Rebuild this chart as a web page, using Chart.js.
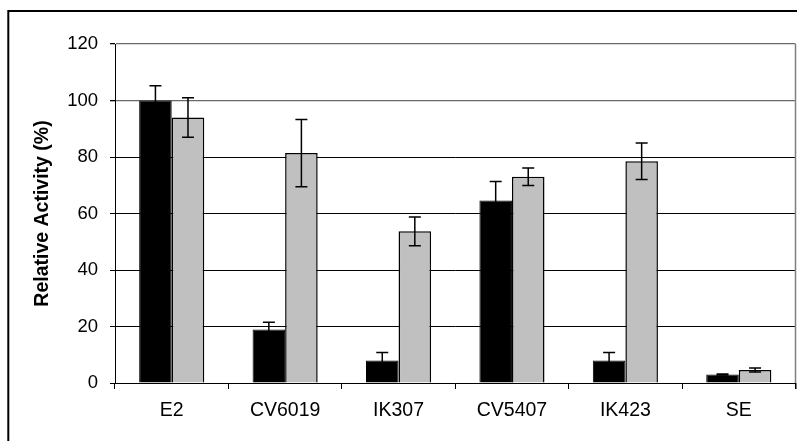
<!DOCTYPE html>
<html>
<head>
<meta charset="utf-8">
<script src="https://cdn.jsdelivr.net/npm/chart.js@4"></script>
<style>
  html, body { margin: 0; padding: 0; background: #fff; }
  #wrap { width: 797px; height: 441px; }
</style>
</head>
<body>
<div id="wrap"><canvas id="c" width="797" height="441"></canvas></div>
<script>
// Compounds tested
const categories = ['E2', 'CV6019', 'IK307', 'CV5407', 'IK423', 'SE'];
// First series (black bars) and its error
const blackValues = [100, 18.9, 8.0, 64.6, 8.0, 3.0];
const blackErrors = [5.2, 2.6, 2.8, 6.7, 2.8, 0.2];
// Second series (grey bars) and its error
const greyValues = [94.0, 81.4, 53.7, 73.0, 78.5, 4.6];
const greyErrors = [7.0, 11.9, 5.1, 3.1, 6.5, 0.7];
// Y axis ticks
const yTicks = [0, 20, 40, 60, 80, 100, 120];

const FONT = 'Liberation Sans, Arial, sans-serif';

// Outer frame around the whole figure
const framePlugin = {
  id: 'frame',
  beforeDraw(chart) {
    const ctx = chart.ctx;
    ctx.save();
    ctx.strokeStyle = '#000';
    ctx.lineWidth = 2;
    ctx.strokeRect(8.3, 11, 820, 460);
    ctx.restore();
  }
};

// Right-hand edge of the plot area
const plotEdgePlugin = {
  id: 'plotEdge',
  afterDraw(chart) {
    const { ctx, chartArea } = chart;
    ctx.save();
    ctx.strokeStyle = '#808080';
    ctx.lineWidth = 1.5;
    ctx.beginPath();
    ctx.moveTo(chartArea.right, chartArea.top);
    ctx.lineTo(chartArea.right, chartArea.bottom);
    ctx.stroke();
    ctx.strokeStyle = '#000';
    ctx.lineWidth = 1;
    ctx.beginPath();
    ctx.moveTo(chartArea.right + 0.5, chartArea.bottom);
    ctx.lineTo(chartArea.right + 0.5, chartArea.bottom + 6);
    ctx.stroke();
    ctx.restore();
  }
};

// Error bars with caps, drawn from each dataset's error array
const errorBarPlugin = {
  id: 'errorBars',
  afterDatasetsDraw(chart) {
    const ctx = chart.ctx;
    const yScale = chart.scales.y;
    ctx.save();
    ctx.strokeStyle = '#000';
    ctx.lineWidth = 1.5;
    chart.data.datasets.forEach((ds, di) => {
      const meta = chart.getDatasetMeta(di);
      meta.data.forEach((bar, i) => {
        const v = ds.data[i];
        const e = ds.errors[i];
        const yTop = yScale.getPixelForValue(v + e);
        const yBot = yScale.getPixelForValue(v - e);
        const half = 6;
        ctx.beginPath();
        ctx.moveTo(bar.x, yTop);
        ctx.lineTo(bar.x, yBot);
        ctx.moveTo(bar.x - half, yTop);
        ctx.lineTo(bar.x + half, yTop);
        ctx.moveTo(bar.x - half, yBot);
        ctx.lineTo(bar.x + half, yBot);
        ctx.stroke();
      });
    });
    ctx.restore();
  }
};

new Chart(document.getElementById('c'), {
  type: 'bar',
  data: {
    labels: categories,
    datasets: [
      {
        label: 'Series 1',
        data: blackValues,
        errors: blackErrors,
        backgroundColor: '#000000',
        borderColor: '#000000',
        borderWidth: 1,
        categoryPercentage: 0.574,
        barPercentage: 1.0
      },
      {
        label: 'Series 2',
        data: greyValues,
        errors: greyErrors,
        backgroundColor: '#c0c0c0',
        borderColor: '#000000',
        borderWidth: 1.5,
        categoryPercentage: 0.574,
        barPercentage: 1.0
      }
    ]
  },
  options: {
    responsive: false,
    animation: false,
    layout: { padding: { top: 44, right: 1.5, bottom: 0, left: 0 } },
    plugins: {
      legend: { display: false },
      tooltip: { enabled: false }
    },
    scales: {
      x: {
        offset: true,
        grid: {
          offset: true,
          drawOnChartArea: false,
          drawTicks: true,
          tickLength: 6,
          color: '#000',
          lineWidth: 1
        },
        border: { display: true, color: '#000', width: 1 },
        ticks: {
          color: '#000',
          font: { family: FONT, size: 19.5 },
          padding: 10,
          maxRotation: 0
        },
        afterFit(scale) { scale.height = 58; }
      },
      y: {
        min: 0,
        max: 120,
        afterBuildTicks(scale) { scale.ticks = yTicks.map(v => ({ value: v })); },
        grid: {
          color: (c) => (c.tick && c.tick.value >= 100 ? '#6a6a6a' : '#000'),
          lineWidth: (c) => (c.tick && c.tick.value >= 100 ? 1.3 : 1),
          drawTicks: true,
          tickLength: 5,
          tickColor: '#000'
        },
        border: { display: true, color: '#000', width: 1 },
        ticks: {
          color: '#000',
          font: { family: FONT, size: 18.5 },
          padding: 12
        },
        title: {
          display: true,
          text: 'Relative Activity (%)',
          color: '#000',
          font: { family: FONT, size: 19.5, weight: 'bold' },
          padding: { top: 31, bottom: 0 }
        },
        afterFit(scale) { scale.width = 115; }
      }
    }
  },
  plugins: [framePlugin, plotEdgePlugin, errorBarPlugin]
});
</script>
</body>
</html>
